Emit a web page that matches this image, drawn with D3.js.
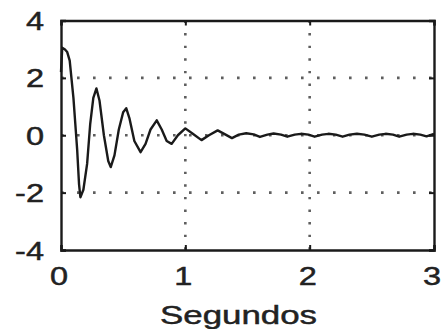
<!DOCTYPE html>
<html>
<head>
<meta charset="utf-8">
<script src="https://cdn.jsdelivr.net/npm/d3@7"></script>
<style>
  html, body { margin: 0; padding: 0; background: #ffffff; }
  svg { display: block; }
  text { font-family: "Liberation Sans", Arial, Helvetica, sans-serif; fill: #222222; stroke: #222222; stroke-width: 0.45px; }
</style>
</head>
<body>
<svg id="chart" width="441" height="329"></svg>
<script>
// Damped response: time (s) and amplitude samples
const timeSec = [
  0.00, 0.01, 0.03, 0.05, 0.07, 0.10, 0.115, 0.13, 0.145, 0.156,
  0.18, 0.21, 0.235, 0.26, 0.285, 0.31, 0.345, 0.38, 0.40, 0.43,
  0.465, 0.50, 0.525, 0.55, 0.59, 0.64, 0.68, 0.72, 0.77, 0.81,
  0.85, 0.89, 0.94, 1.00, 1.06, 1.13, 1.19, 1.26, 1.32, 1.375,
  1.43, 1.49, 1.55, 1.60, 1.66, 1.71, 1.77, 1.82, 1.88, 1.93,
  1.99, 2.04, 2.10, 2.15, 2.21, 2.265, 2.32, 2.38, 2.44, 2.50,
  2.56, 2.61, 2.67, 2.72, 2.78, 2.83, 2.89, 2.94, 3.00
];
const amplitude = [
  2.20, 3.05, 3.00, 2.90, 2.60, 1.30, 0.40, -0.50, -1.70, -2.16,
  -1.90, -1.00, 0.40, 1.30, 1.63, 1.20, 0.00, -0.90, -1.11, -0.70,
  0.20, 0.80, 0.94, 0.60, -0.20, -0.59, -0.30, 0.20, 0.52, 0.20,
  -0.20, -0.30, 0.00, 0.24, 0.05, -0.17, 0.00, 0.17, 0.03, -0.10,
  0.02, 0.07, 0.03, -0.06, 0.02, 0.06, 0.02, -0.05, 0.02, 0.05,
  0.02, -0.05, 0.02, 0.05, 0.02, -0.05, 0.02, 0.05, 0.02, -0.05,
  0.02, 0.05, 0.02, -0.05, 0.02, 0.05, 0.02, -0.04, 0.05
];
const xTicks = [0, 1, 2, 3];
const yTicks = [-4, -2, 0, 2, 4];
const xLabel = "Segundos";

const svg = d3.select("#chart");
const plotLeft = 61, plotRight = 434, plotTop = 20.5, plotBottom = 250;

const x = d3.scaleLinear().domain([0, 3]).range([plotLeft, plotRight]);
const y = d3.scaleLinear().domain([-4, 4]).range([plotBottom, plotTop]);

const ink = "#1a1a1a";
const gridInk = "#5e5e5e";

// dotted grid
const grid = svg.append("g");
grid.selectAll("line.gx")
  .data(xTicks.filter(t => t > 0 && t < 3))
  .join("line")
  .attr("x1", d => x(d)).attr("x2", d => x(d))
  .attr("y1", plotTop).attr("y2", plotBottom)
  .attr("stroke", gridInk).attr("stroke-width", 2.6)
  .attr("stroke-dasharray", "2.4,10.2");
grid.selectAll("line.gy")
  .data(yTicks.filter(t => t > -4 && t < 4))
  .join("line")
  .attr("x1", plotLeft).attr("x2", plotRight)
  .attr("y1", d => y(d)).attr("y2", d => y(d))
  .attr("stroke", gridInk).attr("stroke-width", 2.6)
  .attr("stroke-dasharray", "2.6,13.4");

// signal trace
const line = d3.line()
  .x((d, i) => x(timeSec[i]))
  .y(d => y(d));
svg.append("path")
  .datum(amplitude)
  .attr("d", line)
  .attr("fill", "none")
  .attr("stroke", ink)
  .attr("stroke-width", 2.4)
  .attr("stroke-linejoin", "round");

// axes with inward ticks on all four sides
const tickLen = 5;
const axB = d3.axisBottom(x).tickValues(xTicks).tickSize(-tickLen).tickFormat("");
const axT = d3.axisTop(x).tickValues(xTicks).tickSize(-tickLen).tickFormat("");
const axL = d3.axisLeft(y).tickValues(yTicks).tickSize(-tickLen).tickFormat("");
const axR = d3.axisRight(y).tickValues(yTicks).tickSize(-tickLen).tickFormat("");
function styleAxis(g) {
  g.selectAll("path.domain").attr("stroke", ink).attr("stroke-width", 2.4);
  g.selectAll(".tick line").attr("stroke", ink).attr("stroke-width", 2);
}
svg.append("g").attr("transform", `translate(0,${plotBottom})`).call(axB).call(styleAxis);
svg.append("g").attr("transform", `translate(0,${plotTop})`).call(axT).call(styleAxis);
svg.append("g").attr("transform", `translate(${plotLeft},0)`).call(axL).call(styleAxis);
svg.append("g").attr("transform", `translate(${plotRight},0)`).call(axR).call(styleAxis);

// tick labels (wide lettering)
const stretch = 1.3;
svg.append("g").selectAll("text")
  .data(yTicks)
  .join("text")
  .attr("transform", d => `translate(44,${y(d) + 9.5}) scale(${stretch},1)`)
  .attr("text-anchor", "end")
  .attr("font-size", 25)
  .text(d => d);

svg.append("g").selectAll("text")
  .data(xTicks)
  .join("text")
  .attr("transform", d => `translate(${x(d) - 2},285) scale(${stretch},1)`)
  .attr("text-anchor", "middle")
  .attr("font-size", 25)
  .text(d => d);

svg.append("text")
  .attr("x", 160)
  .attr("y", 324)
  .attr("font-size", 25)
  .attr("textLength", 157)
  .attr("lengthAdjust", "spacingAndGlyphs")
  .text(xLabel);
</script>
</body>
</html>
